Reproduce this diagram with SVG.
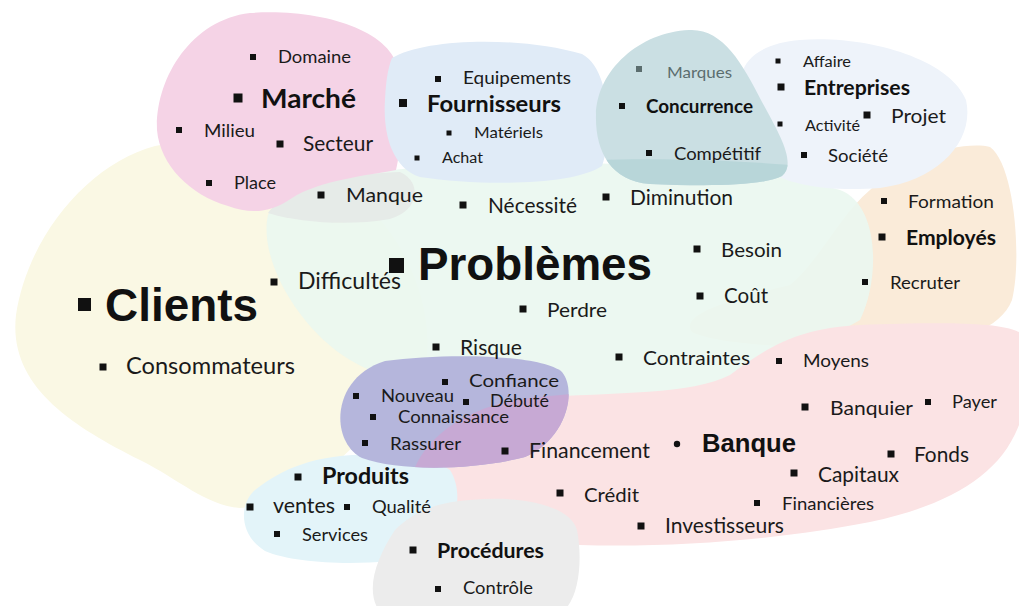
<svg xmlns="http://www.w3.org/2000/svg" width="1019" height="606" viewBox="0 0 1019 606">
<defs>
<style>
.t{font-family:Lato,"Liberation Sans",sans-serif;fill:#1a1a1a}
.b{font-family:Lato,"Liberation Sans",sans-serif;font-weight:bold;fill:#111}
.a{font-family:"Liberation Sans",Arial,sans-serif;font-weight:bold;fill:#111}
.bl{fill:#111}
.g{fill:#5b6d6e}
</style>
<clipPath id="tealClip"><path d="M689,30 C722,28 742,62 762,102 C782,138 796,164 782,176 C760,187 700,186 650,184 C610,181 595,150 596,115 C597,70 640,32 689,30 Z"/></clipPath>
<clipPath id="purpClip"><path d="M385,361 C445,353 540,354 562,372 C578,392 565,440 525,457 C475,470 400,472 362,458 C330,442 330,378 385,361 Z"/></clipPath>
</defs>
<rect width="1019" height="606" fill="#ffffff"/>
<g id="blobs">
<path id="blob-clients" fill="#FAF8E4" d="M155,146 C90,163 28,235 16,315 C8,385 70,425 140,460 C180,480 205,505 240,508 C290,505 330,470 360,440 L420,380 C440,340 420,250 360,200 C300,160 220,133 155,146 Z"/>
<path id="blob-employes" fill="#FAEBD9" d="M990,147 C1015,165 1022,260 1012,300 C1000,330 960,342 900,346 C820,350 720,346 692,332 C680,316 720,302 790,285 C820,260 840,215 870,190 C900,160 960,140 990,147 Z"/>
<path id="blob-problemes" fill="#EAF7EF" fill-opacity="0.9" d="M268,215 C300,175 400,165 500,165 C600,160 760,165 840,190 C880,205 880,280 860,320 C820,345 780,350 740,375 C700,398 620,405 560,402 C480,400 400,390 350,360 C300,330 258,260 268,215 Z"/>
<path id="blob-banque" fill="#FBE3E4" d="M412,475 C425,435 470,405 530,398 C620,392 690,395 730,375 C770,345 800,328 860,325 C940,322 1000,322 1019,332 L1019,425 C1000,475 950,505 870,522 C790,538 680,548 580,545 C500,540 430,515 412,475 Z"/>
<path id="blob-manque" fill="#E6EBE8" d="M268,213 C285,190 320,175 400,172 C422,182 420,210 390,219 C350,226 300,223 268,213 Z"/>
<path id="blob-marche" fill="#F5D3E6" d="M250,13 C320,8 392,30 398,70 C403,110 401,150 396,170 C370,175 320,180 292,198 C272,212 252,215 228,206 C190,195 160,165 157,130 C155,80 190,20 250,13 Z"/>
<path id="blob-fournisseurs" fill="#E0EBF7" d="M392,58 C425,38 520,36 582,54 C612,70 612,140 602,166 C572,186 480,186 420,177 C390,167 383,130 385,100 C386,80 388,68 392,58 Z"/>
<path id="blob-entreprises" fill="#EEF3FA" d="M800,40 C870,35 950,60 966,100 C975,140 940,180 880,188 C830,192 790,185 770,172 C750,150 740,110 742,75 C745,55 770,42 800,40 Z"/>
<path id="blob-concurrence" fill="#CADFE3" d="M689,30 C722,28 742,62 762,102 C782,138 796,164 782,176 C760,187 700,186 650,184 C610,181 595,150 596,115 C597,70 640,32 689,30 Z"/>
<g clip-path="url(#tealClip)"><path fill="#B8D6D9" d="M560,162 C640,156 760,160 840,170 L840,200 L560,200 Z"/></g>
<path id="blob-produits" fill="#E3F4F9" d="M300,465 C340,450 420,450 450,470 C466,495 456,540 420,556 C380,566 300,566 265,551 C240,536 238,505 255,490 C270,478 285,470 300,465 Z"/>
<path id="blob-procedures" fill="#ECECEC" d="M470,500 C520,495 570,505 577,530 C583,560 579,600 562,612 L380,612 C365,592 375,560 395,530 C415,510 440,502 470,500 Z"/>
<path id="blob-confiance" fill="#B5B6DC" d="M385,361 C445,353 540,354 562,372 C578,392 565,440 525,457 C475,470 400,472 362,458 C330,442 330,378 385,361 Z"/>
<g clip-path="url(#purpClip)"><path fill="#C7A9D4" d="M412,475 C425,435 470,405 530,398 C560,395 590,392 620,392 L620,520 L400,520 Z"/></g>
</g>
<g id="connectors"></g>
<g id="node-clients"><rect class="bl" x="78" y="298" width="13" height="13"/><text class="a" x="105" y="321" font-size="46" textLength="153" lengthAdjust="spacingAndGlyphs">Clients</text></g>
<g id="node-problemes"><rect class="bl" x="389" y="258" width="15" height="15"/><text class="a" x="418" y="280" font-size="46" textLength="234" lengthAdjust="spacingAndGlyphs">Problèmes</text></g>
<g id="node-banque"><circle class="bl" cx="677" cy="444" r="3.2"/><text class="a" x="702" y="452" font-size="26" textLength="94" lengthAdjust="spacingAndGlyphs">Banque</text></g>
<g id="node-domaine"><rect class="bl" x="250" y="54" width="6" height="6"/><text class="t" x="278" y="63" font-size="17.8" textLength="73" lengthAdjust="spacingAndGlyphs">Domaine</text></g>
<g id="node-marche"><rect class="bl" x="233.5" y="93.5" width="9" height="9"/><text class="b" x="261" y="108" font-size="26.7" textLength="95" lengthAdjust="spacingAndGlyphs">Marché</text></g>
<g id="node-milieu"><rect class="bl" x="176" y="127" width="6" height="6"/><text class="t" x="204" y="137" font-size="17.8" textLength="51" lengthAdjust="spacingAndGlyphs">Milieu</text></g>
<g id="node-secteur"><rect class="bl" x="276.5" y="140.5" width="7" height="7"/><text class="t" x="303" y="151" font-size="20.2" textLength="70" lengthAdjust="spacingAndGlyphs">Secteur</text></g>
<g id="node-place"><rect class="bl" x="206" y="180" width="6" height="6"/><text class="t" x="234" y="189" font-size="17.8" textLength="42" lengthAdjust="spacingAndGlyphs">Place</text></g>
<g id="node-manque"><rect class="bl" x="317.5" y="191.5" width="7" height="7"/><text class="t" x="346" y="202" font-size="20.1" textLength="77" lengthAdjust="spacingAndGlyphs">Manque</text></g>
<g id="node-difficultes"><rect class="bl" x="270.5" y="278.5" width="7" height="7"/><text class="t" x="298" y="289" font-size="22.3" textLength="103" lengthAdjust="spacingAndGlyphs">Difficultés</text></g>
<g id="node-equipements"><rect class="bl" x="435" y="76" width="6" height="6"/><text class="t" x="463" y="84" font-size="17.8" textLength="108" lengthAdjust="spacingAndGlyphs">Equipements</text></g>
<g id="node-fournisseurs"><rect class="bl" x="399" y="99" width="8" height="8"/><text class="b" x="427" y="112" font-size="22.7" textLength="134" lengthAdjust="spacingAndGlyphs">Fournisseurs</text></g>
<g id="node-materiels"><rect class="bl" x="446.5" y="130.5" width="5" height="5"/><text class="t" x="474" y="138" font-size="16" textLength="69" lengthAdjust="spacingAndGlyphs">Matériels</text></g>
<g id="node-achat"><rect class="bl" x="414.5" y="155.5" width="5" height="5"/><text class="t" x="442" y="163" font-size="15.6" textLength="41" lengthAdjust="spacingAndGlyphs">Achat</text></g>
<g id="node-marques"><rect class="g" x="636" y="66" width="6" height="6"/><text class="g" x="667" y="78" font-size="16" font-family="Lato,'Liberation Sans',sans-serif" textLength="65" lengthAdjust="spacingAndGlyphs">Marques</text></g>
<g id="node-concurrence"><rect class="bl" x="619" y="103" width="6" height="6"/><text class="b" x="646" y="113" font-size="18.2" textLength="107" lengthAdjust="spacingAndGlyphs">Concurrence</text></g>
<g id="node-competitif"><rect class="bl" x="646" y="150" width="6" height="6"/><text class="t" x="674" y="160" font-size="18" textLength="87" lengthAdjust="spacingAndGlyphs">Compétitif</text></g>
<g id="node-affaire"><rect class="bl" x="775.5" y="58.5" width="5" height="5"/><text class="t" x="803" y="67" font-size="15.6" textLength="48" lengthAdjust="spacingAndGlyphs">Affaire</text></g>
<g id="node-entreprises"><rect class="bl" x="777.5" y="83.5" width="7" height="7"/><text class="b" x="804" y="95" font-size="20.2" textLength="106" lengthAdjust="spacingAndGlyphs">Entreprises</text></g>
<g id="node-activite"><rect class="bl" x="777.5" y="121.5" width="5" height="5"/><text class="t" x="805" y="131" font-size="16" textLength="55" lengthAdjust="spacingAndGlyphs">Activité</text></g>
<g id="node-projet"><rect class="bl" x="863.5" y="111.5" width="7" height="7"/><text class="t" x="891" y="123" font-size="19.6" textLength="55" lengthAdjust="spacingAndGlyphs">Projet</text></g>
<g id="node-societe"><rect class="bl" x="801" y="152" width="6" height="6"/><text class="t" x="828" y="162" font-size="18" textLength="60" lengthAdjust="spacingAndGlyphs">Société</text></g>
<g id="node-diminution"><rect class="bl" x="602.5" y="193.5" width="7" height="7"/><text class="t" x="630" y="205" font-size="20.2" textLength="103" lengthAdjust="spacingAndGlyphs">Diminution</text></g>
<g id="node-necessite"><rect class="bl" x="459.5" y="201.5" width="7" height="7"/><text class="t" x="488" y="213" font-size="20.3" textLength="89" lengthAdjust="spacingAndGlyphs">Nécessité</text></g>
<g id="node-formation"><rect class="bl" x="881" y="198" width="6" height="6"/><text class="t" x="908" y="208" font-size="18.1" textLength="86" lengthAdjust="spacingAndGlyphs">Formation</text></g>
<g id="node-employes"><rect class="bl" x="878.5" y="233.5" width="7" height="7"/><text class="b" x="906" y="245" font-size="20" textLength="90" lengthAdjust="spacingAndGlyphs">Employés</text></g>
<g id="node-recruter"><rect class="bl" x="862" y="279" width="6" height="6"/><text class="t" x="890" y="289" font-size="17.7" textLength="70" lengthAdjust="spacingAndGlyphs">Recruter</text></g>
<g id="node-besoin"><rect class="bl" x="693.5" y="245.5" width="7" height="7"/><text class="t" x="721" y="257" font-size="20" textLength="61" lengthAdjust="spacingAndGlyphs">Besoin</text></g>
<g id="node-cout"><rect class="bl" x="696.5" y="292.5" width="7" height="7"/><text class="t" x="724" y="303" font-size="20.4" textLength="44" lengthAdjust="spacingAndGlyphs">Coût</text></g>
<g id="node-perdre"><rect class="bl" x="519.5" y="305.5" width="7" height="7"/><text class="t" x="547" y="317" font-size="19.6" textLength="60" lengthAdjust="spacingAndGlyphs">Perdre</text></g>
<g id="node-risque"><rect class="bl" x="432.5" y="343.5" width="7" height="7"/><text class="t" x="460" y="355" font-size="20.4" textLength="62" lengthAdjust="spacingAndGlyphs">Risque</text></g>
<g id="node-contraintes"><rect class="bl" x="615.5" y="353.5" width="7" height="7"/><text class="t" x="643" y="365" font-size="20.1" textLength="107" lengthAdjust="spacingAndGlyphs">Contraintes</text></g>
<g id="node-moyens"><rect class="bl" x="776" y="358" width="6" height="6"/><text class="t" x="803" y="367" font-size="18.1" textLength="66" lengthAdjust="spacingAndGlyphs">Moyens</text></g>
<g id="node-banquier"><rect class="bl" x="801.5" y="403.5" width="7" height="7"/><text class="t" x="830" y="415" font-size="20.1" textLength="83" lengthAdjust="spacingAndGlyphs">Banquier</text></g>
<g id="node-payer"><rect class="bl" x="925" y="399" width="6" height="6"/><text class="t" x="952" y="408" font-size="17.4" textLength="45" lengthAdjust="spacingAndGlyphs">Payer</text></g>
<g id="node-fonds"><rect class="bl" x="887.5" y="450.5" width="7" height="7"/><text class="t" x="914" y="462" font-size="20.2" textLength="55" lengthAdjust="spacingAndGlyphs">Fonds</text></g>
<g id="node-capitaux"><rect class="bl" x="790.5" y="469.5" width="7" height="7"/><text class="t" x="818" y="482" font-size="20.4" textLength="81" lengthAdjust="spacingAndGlyphs">Capitaux</text></g>
<g id="node-financieres"><rect class="bl" x="754" y="500" width="6" height="6"/><text class="t" x="782" y="510" font-size="17.8" textLength="92" lengthAdjust="spacingAndGlyphs">Financières</text></g>
<g id="node-investisseurs"><rect class="bl" x="637.5" y="522.5" width="7" height="7"/><text class="t" x="665" y="533" font-size="20.3" textLength="119" lengthAdjust="spacingAndGlyphs">Investisseurs</text></g>
<g id="node-credit"><rect class="bl" x="556.5" y="489.5" width="7" height="7"/><text class="t" x="584" y="502" font-size="19.8" textLength="55" lengthAdjust="spacingAndGlyphs">Crédit</text></g>
<g id="node-financement"><rect class="bl" x="501.5" y="447.5" width="7" height="7"/><text class="t" x="529" y="458" font-size="20.4" textLength="121" lengthAdjust="spacingAndGlyphs">Financement</text></g>
<g id="node-consommateurs"><rect class="bl" x="99.5" y="363.5" width="7" height="7"/><text class="t" x="126" y="374" font-size="22.3" textLength="169" lengthAdjust="spacingAndGlyphs">Consommateurs</text></g>
<g id="node-nouveau"><rect class="bl" x="353" y="393" width="6" height="6"/><text class="t" x="381" y="402" font-size="17.8" textLength="73" lengthAdjust="spacingAndGlyphs">Nouveau</text></g>
<g id="node-connaissance"><rect class="bl" x="370" y="414" width="6" height="6"/><text class="t" x="398" y="423" font-size="17.8" textLength="111" lengthAdjust="spacingAndGlyphs">Connaissance</text></g>
<g id="node-rassurer"><rect class="bl" x="362" y="440" width="6" height="6"/><text class="t" x="390" y="450" font-size="17.8" textLength="71" lengthAdjust="spacingAndGlyphs">Rassurer</text></g>
<g id="node-confiance"><rect class="bl" x="442" y="379" width="6" height="6"/><text class="t" x="469" y="387" font-size="18" textLength="90" lengthAdjust="spacingAndGlyphs">Confiance</text></g>
<g id="node-debute"><rect class="bl" x="463" y="399" width="6" height="6"/><text class="t" x="490" y="407" font-size="17.2" textLength="59" lengthAdjust="spacingAndGlyphs">Débuté</text></g>
<g id="node-produits"><rect class="bl" x="294.5" y="473.5" width="7" height="7"/><text class="b" x="322" y="484" font-size="22.3" textLength="87" lengthAdjust="spacingAndGlyphs">Produits</text></g>
<g id="node-ventes"><rect class="bl" x="246.5" y="503.5" width="7" height="7"/><text class="t" x="273" y="513" font-size="20.5" textLength="62" lengthAdjust="spacingAndGlyphs">ventes</text></g>
<g id="node-qualite"><rect class="bl" x="344" y="504" width="6" height="6"/><text class="t" x="372" y="513" font-size="17.8" textLength="59" lengthAdjust="spacingAndGlyphs">Qualité</text></g>
<g id="node-services"><rect class="bl" x="274" y="531" width="6" height="6"/><text class="t" x="302" y="541" font-size="17.8" textLength="66" lengthAdjust="spacingAndGlyphs">Services</text></g>
<g id="node-procedures"><rect class="bl" x="409.5" y="546.5" width="7" height="7"/><text class="b" x="437" y="558" font-size="20.4" textLength="107" lengthAdjust="spacingAndGlyphs">Procédures</text></g>
<g id="node-controle"><rect class="bl" x="435" y="586" width="6" height="6"/><text class="t" x="463" y="594" font-size="17.8" textLength="70" lengthAdjust="spacingAndGlyphs">Contrôle</text></g>
</svg>
